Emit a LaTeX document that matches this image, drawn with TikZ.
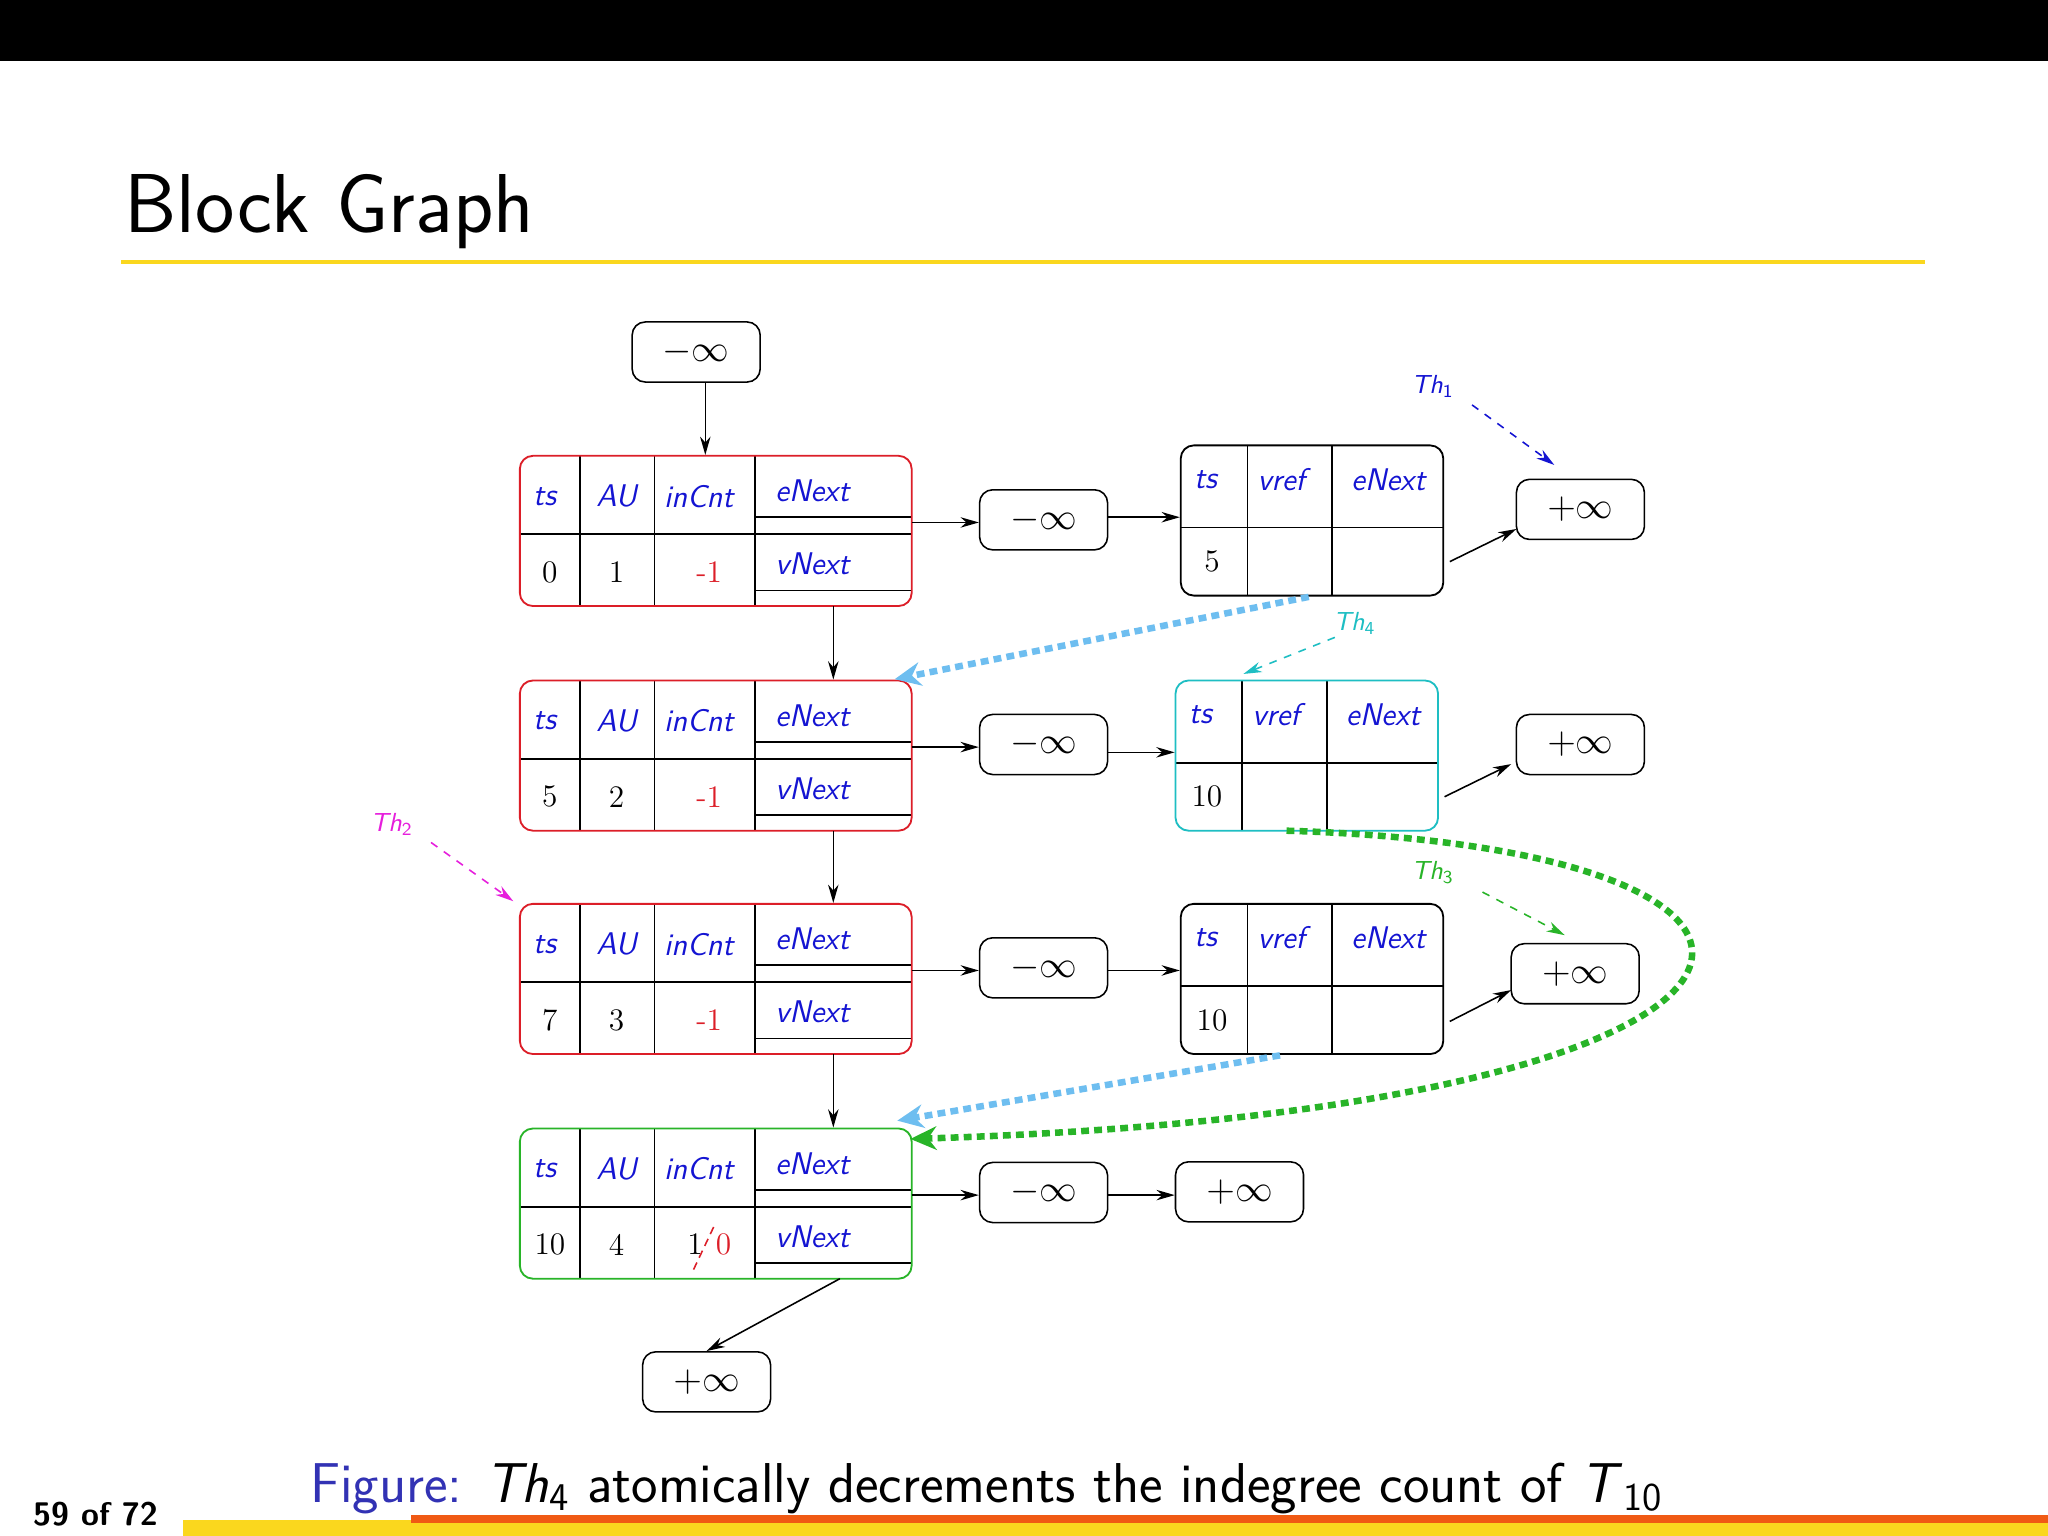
\documentclass[tikz,border=0pt]{standalone}
\usetikzlibrary{arrows.meta,calc}
\definecolor{myred}{RGB}{220,30,40}
\definecolor{mygreen}{RGB}{40,180,40}
\definecolor{mycyan}{RGB}{30,190,195}
\definecolor{myblue}{RGB}{20,20,210}
\definecolor{lblue}{RGB}{110,190,240}
\definecolor{mymag}{RGB}{230,30,220}
\definecolor{capblue}{RGB}{50,50,180}
\definecolor{myyel}{RGB}{250,215,30}
\definecolor{myorange}{RGB}{240,90,20}
\tikzset{
 rec/.style={draw,rounded corners=5pt,minimum width=150pt,minimum height=57.5pt,inner sep=0pt,line width=0.7pt},
 inf/.style={draw,rounded corners=5pt,minimum width=49pt,minimum height=23pt,inner sep=0pt,line width=0.6pt,font=\Large},
 lbl/.style={text=myblue,font=\sffamily\itshape\large},
 val/.style={font=\large},
 arr/.style={-{Stealth[length=7pt,width=4pt]},line width=0.6pt},
 tharr/.style={-{Stealth[length=7pt,width=4pt]},dashed,line width=0.6pt},
 thick dots/.style={line width=2.5pt,dash pattern=on 3pt off 2pt,-{Stealth[length=10pt,width=9pt]}}
}
\newcommand\blk[6]{%
 \draw[line width=0.6pt] (444,#2)--(444,#2+115) (501,#2)--(501,#2+115) (578,#2)--(578,#2+115)
   (398,#2+60)--(578,#2+60) (578,#2+47)--(698,#2+47) (578,#2+60)--(698,#2+60) (578,#2+103)--(698,#2+103);
 \node[rec,draw=#3] (#1) at (548,#2+57.5) {};
 \node[lbl] at (417,#2+31) {ts};
 \node[lbl] at (472,#2+31) {AU};
 \node[lbl] at (535,#2+31) {inCnt};
 \node[lbl] at (622,#2+27) {eNext};
 \node[lbl] at (622,#2+83) {vNext};
 \node[val] at (421,#2+89) {#4};
 \node[val] at (472,#2+89) {#5};
 \node[val] at (543,#2+89) {#6};}
\newcommand\rrec[5]{%
 \draw[line width=0.6pt] (#2+51,#3)--(#2+51,#3+115) (#2+116,#3)--(#2+116,#3+115) (#2,#3+63)--(#2+201,#3+63);
 \node[rec,draw=#4,minimum width=100.5pt] (#1) at (#2+100.5,#3+57.5) {};
 \node[lbl] at (#2+19,#3+26) {ts};
 \node[lbl] at (#2+77,#3+26) {vref};
 \node[lbl] at (#2+159,#3+26) {eNext};
 \node[val] at (#2+24,#3+89) {#5};}
\begin{document}
\begin{tikzpicture}[x=0.5pt,y=-0.5pt]
\useasboundingbox (0,0) rectangle (1568,1176);
\fill[white] (0,0) rectangle (1568,1176);
\fill[black] (0,0) rectangle (1568,47);
\node[anchor=base west,inner sep=0pt,font=\sffamily\fontsize{32}{38}\selectfont] (title) at (95,178) {Block Graph};
\fill[myyel] (93,199) rectangle (1474,202);
% blocks
\blk{b1}{349}{myred}{0}{1}{\textcolor{myred}{-1}}
\blk{b2}{521}{myred}{5}{2}{\textcolor{myred}{-1}}
\blk{b3}{692}{myred}{7}{3}{\textcolor{myred}{-1}}
\blk{b4}{864}{mygreen}{10}{4}{1\hspace{5pt}\textcolor{myred}{0}}
\draw[myred,densely dashed,line width=0.6pt] (531,972)--(548,936);
% inf nodes
\node[inf] (top) at (533,269.5) {$-\infty$};
\node[inf] (m1) at (799,398) {$-\infty$};
\node[inf] (m2) at (799,570) {$-\infty$};
\node[inf] (m3) at (799,741) {$-\infty$};
\node[inf] (m4) at (799,913) {$-\infty$};
\node[inf] (p1) at (1210,390) {$+\infty$};
\node[inf] (p2) at (1210,570) {$+\infty$};
\node[inf] (p3) at (1206,745.5) {$+\infty$};
\node[inf] (p4) at (949,912.5) {$+\infty$};
\node[inf] (pb) at (541,1058) {$+\infty$};
% right records
\rrec{r1}{904}{341}{black}{5}
\rrec{r2}{900}{521}{mycyan}{10}
\rrec{r3}{904}{692}{black}{10}
% arrows
\draw[arr] (top.south -| 540,0) -- (b1.north -| 540,0);
\draw[arr] (638,464) -- (b2.north -| 638,0);
\draw[arr] (638,636) -- (b3.north -| 638,0);
\draw[arr] (638,807) -- (b4.north -| 638,0);
\draw[arr] (643,979) -- (pb.north);
\draw[arr] (698,400) -- (m1.west |- 0,400);
\draw[arr] (698,572) -- (m2.west |- 0,572);
\draw[arr] (698,743) -- (m3.west |- 0,743);
\draw[arr] (698,915) -- (m4.west |- 0,915);
\draw[arr] (m1.east |- 0,396) -- (r1.west |- 0,396);
\draw[arr] (m2.east |- 0,576) -- (r2.west |- 0,576);
\draw[arr] (m3.east |- 0,743) -- (r3.west |- 0,743);
\draw[arr] (m4.east |- 0,915) -- (p4.west |- 0,915);
\draw[arr] (1110,430) -- (1161,405);
\draw[arr] (1106,610) -- (1157,585);
\draw[arr] (1110,782) -- (1157,758);
% thread labels
\node[text=myblue,font=\sffamily\itshape] (t1) at (1097,296) {Th\textsubscript{\upshape 1}};
\draw[tharr,myblue] (1127,310) -- (1190,356);
\node[text=mycyan,font=\sffamily\itshape] (t4) at (1037,477) {Th\textsubscript{\upshape 4}};
\draw[tharr,mycyan] (1022,488) -- (952,516);
\node[text=mymag,font=\sffamily\itshape] (t2) at (300,631) {Th\textsubscript{\upshape 2}};
\draw[tharr,mymag] (330,645) -- (393,690);
\node[text=mygreen,font=\sffamily\itshape] (t3) at (1097,668) {Th\textsubscript{\upshape 3}};
\draw[tharr,mygreen] (1135,683) -- (1198,716);
% thick dotted
\draw[thick dots,lblue] (1002,457) -- (685,520);
\draw[thick dots,lblue] (980,808) -- (687,858);
\draw[thick dots,mygreen] (985,636) .. controls (1450,650) and (1420,850) .. (697,872);
% caption
\node[anchor=base west,inner sep=0pt,font=\sffamily\fontsize{21.5}{26}\selectfont] (cap) at (237,1150) {\textcolor{capblue}{Figure:} \textit{Th}\textsubscript{4} atomically decrements the indegree count of \textit{T}\textsubscript{10}};
\node[anchor=base west,inner sep=0pt,font=\sffamily\bfseries\fontsize{12.5}{15}\selectfont] (pg) at (25,1168) {59 of 72};
\fill[myyel] (140,1164) rectangle (1568,1176);
\fill[myorange] (315,1160) rectangle (1568,1166);
\end{tikzpicture}
\end{document}
